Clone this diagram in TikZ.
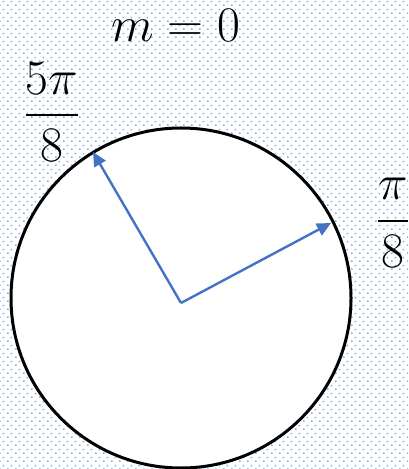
\documentclass[tikz,border=0pt]{standalone}
\usepackage{amsmath}
\usepackage{xcolor}
\usepackage{tikz}
\usetikzlibrary{arrows.meta,patterns}
\definecolor{vecc}{HTML}{4472C4}
\definecolor{dotc}{HTML}{7FAEDF}
\pgfdeclarepatternformonly{bgdots}{\pgfpointorigin}{\pgfqpoint{4pt}{4pt}}{\pgfqpoint{4pt}{4pt}}{%
  \pgfpathrectangle{\pgfqpoint{0pt}{0pt}}{\pgfqpoint{0.9pt}{0.9pt}}%
  \pgfpathrectangle{\pgfqpoint{2pt}{2pt}}{\pgfqpoint{0.9pt}{0.9pt}}%
  \pgfusepath{fill}}
\tikzset{
  ar/.style={-{Triangle[length=7pt,width=6.5pt]},line width=1.2pt,vecc},
  lbl/.style={font=\fontsize{25}{30}\selectfont,inner sep=0pt}
}

\begin{document}
\begin{tikzpicture}[x=0.5pt,y=-0.5pt]
\useasboundingbox (0,0) rectangle (408,469);
\fill[white] (0,0) rectangle (408,469);
\fill[pattern=bgdots,pattern color=dotc] (0,0) rectangle (408,469);
\draw[fill=white,line width=1.5pt] (181,298) circle (170);
\coordinate (o) at (181,303);
\coordinate (v1) at (331,223);
\coordinate (v5) at (93,152);
\draw[ar] (o)--(v1);
\draw[ar] (o)--(v5);
\node[lbl] (m) at (176,25) {$m=0$};
\node[lbl] (f5) at (52,112) {$\dfrac{5\pi\rule[-5pt]{0pt}{0pt}}{8}$};
\node[lbl] (f1) at (393,223) {$\dfrac{\pi}{8}$};
\end{tikzpicture}
\end{document}
